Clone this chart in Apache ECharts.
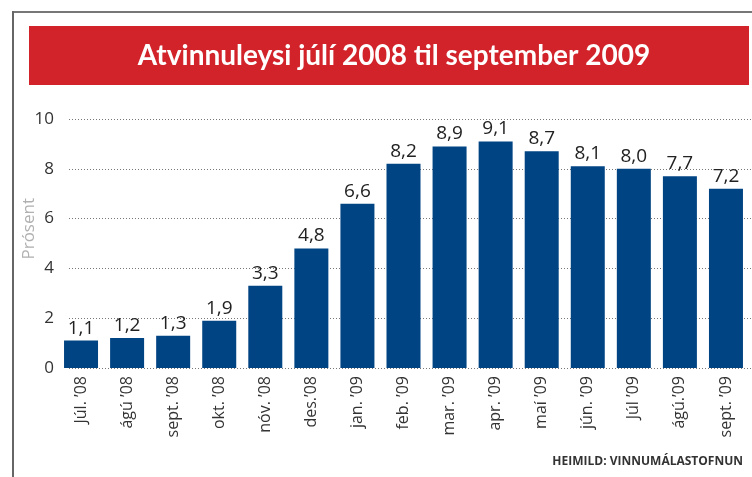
<!DOCTYPE html>
<html>
<head>
<meta charset="utf-8">
<script src="https://cdn.jsdelivr.net/npm/echarts@6/dist/echarts.min.js"></script>
<style>
  html, body { margin: 0; padding: 0; background: #fff; }
  #chart { width: 752px; height: 477px; }
</style>
</head>
<body>
<div id="chart"></div>
<script>
// mánuðir og atvinnuleysi í prósentum
const months = ['Júl. ’08', 'ágú ’08', 'sept. ’08', 'okt. ’08', 'nóv. ’08', 'des.’08', 'jan. ’09',
  'feb. ’09', 'mar. ’09', 'apr. ’09', 'maí ’09', 'jún. ’09', 'Júl ’09', 'ágú.’09', 'sept. ’09']
const rates = [1.1, 1.2, 1.3, 1.9, 3.3, 4.8, 6.6, 8.2, 8.9, 9.1, 8.7, 8.1, 8.0, 7.7, 7.2]
const yTicks = [0, 2, 4, 6, 8, 10]

const font = '"Open Sans", "Noto Sans", sans-serif'

let myChart = echarts.init(document.getElementById('chart'))

let options = {
  animation: false,
  title: {
    text: 'Atvinnuleysi júlí 2008 til september 2009',
    left: 389,
    top: 37,
    textAlign: 'center',
    textStyle: {
      color: '#fff',
      fontFamily: 'Lato, sans-serif',
      fontWeight: 'bold',
      fontSize: 28,
    },
  },
  graphic: [
    // rammi
    { type: 'line', shape: { x1: 13, y1: 12, x2: 752, y2: 12 }, style: { stroke: '#777', lineWidth: 2 } },
    { type: 'line', shape: { x1: 13, y1: 11, x2: 13, y2: 477 }, style: { stroke: '#666', lineWidth: 2 } },
    // rauður borði
    { type: 'rect', shape: { x: 29, y: 26, width: 720, height: 59 }, style: { fill: '#d2232b' } },
    {
      type: 'text', left: 21, top: 198, rotation: Math.PI / 2,
      style: { text: 'Prósent', fill: '#b0b0b0', font: '17px ' + font },
    },
    {
      type: 'text', right: 9, top: 456,
      style: { text: 'HEIMILD: VINNUMÁLASTOFNUN', fill: '#333', font: 'bold 12px ' + font },
    },
  ],
  grid: [
    { left: 58, right: 3, top: 119, bottom: 109 },
    { left: 69, right: 0, top: 119, bottom: 109 },
  ],
  xAxis: [
    {
      type: 'category',
      gridIndex: 0,
      data: months,
      axisLine: { show: false },
      axisTick: { show: false },
      axisLabel: {
        rotate: 90,
        interval: 0,
        margin: 8,
        color: '#333',
        fontFamily: font,
        fontSize: 16,
      },
    },
    { type: 'value', gridIndex: 1, show: false },
  ],
  yAxis: [
    {
      type: 'value',
      gridIndex: 0,
      min: 0,
      max: 10,
      interval: 2,
      show: false,
    },
    {
      type: 'value',
      gridIndex: 1,
      min: yTicks[0],
      max: yTicks[yTicks.length - 1],
      interval: 2,
      axisLine: { show: false },
      axisTick: { show: false },
      splitLine: {
        show: true,
        lineStyle: { color: '#777', width: 1, type: [1, 2] },
      },
      axisLabel: {
        margin: 15,
        color: '#333',
        fontFamily: font,
        fontSize: 17,
      },
    },
  ],
  series: [
    {
      type: 'bar',
      xAxisIndex: 0,
      yAxisIndex: 0,
      data: rates,
      barWidth: 34,
      itemStyle: { color: '#004483' },
      label: {
        show: true,
        position: 'top',
        distance: 3,
        color: '#222',
        fontFamily: font,
        fontSize: 19,
        formatter: (p) => p.value.toFixed(1).replace('.', ','),
      },
    },
  ],
}

myChart.setOption(options)
</script>
</body>
</html>
